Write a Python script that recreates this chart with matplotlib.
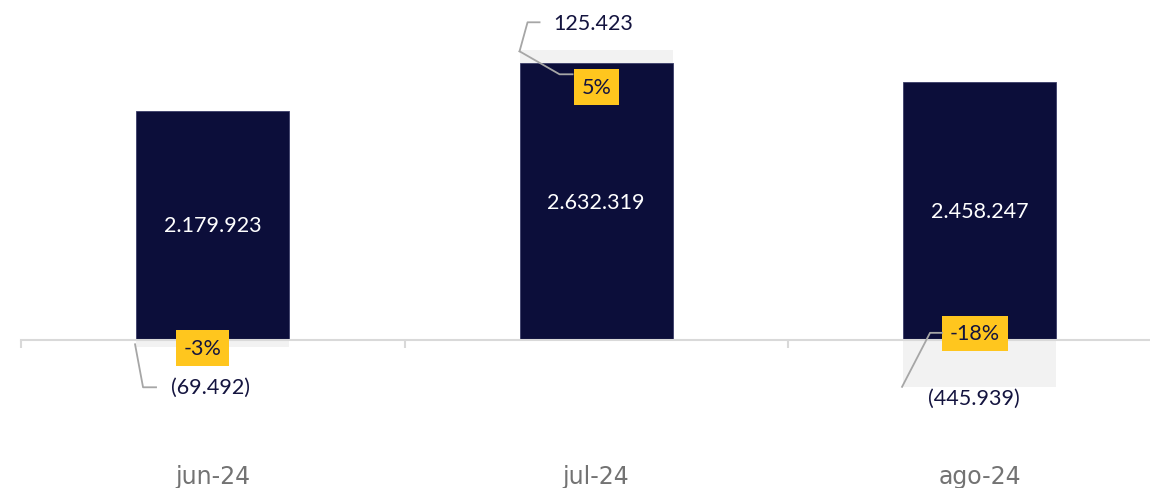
import matplotlib
matplotlib.use("Agg")
import matplotlib.pyplot as plt
from matplotlib.lines import Line2D

# ---- data ----
categories = ["jun-24", "jul-24", "ago-24"]
values = [2179923, 2632319, 2458247]
variation = [-69492, 125423, -445939]
variation_labels = ["(69.492)", "125.423", "(445.939)"]
value_labels = ["2.179.923", "2.632.319", "2.458.247"]
pct_labels = ["-3%", "5%", "-18%"]

# ---- styles / layout ----
NAVY = "#0C0E3A"
GREY_BAR = "#F2F2F2"
AXIS = "#D9D9D9"
LEADER = "#A6A6A6"
YELLOW = "#FFC61E"
TXT = "#14143F"
W = 0.4
FONT = "Lato"
FS = 15.5

# label offsets in pixels (screen y up), relative to anchors
var_lbl_off = [(74, -40), (74, 27), (71, -11)]
var_leader = [[(-1, 3), (7, -40), (20, -40)],
              [(20, 28), (8, 28), (0, -1)],
              [(-1, 0), (27, 54), (39, 54)]]
pct_off = [(-10, -8), (0, -23.5), (-5, 6.5)]
pct_leader = [None, [(0, -1), (40, -24), (53, -24)], None]

fig = plt.figure(figsize=(11.5, 4.89), dpi=100)
ax = fig.add_axes([21 / 1150, 0, 1150.5 / 1150, 1])
ax.set_xlim(-0.5, 2.5)
ax.set_ylim(-1.409e6, 3.246e6)

x = list(range(len(categories)))
ax.bar(x, values, width=W, color=NAVY, edgecolor="#3A3C68", linewidth=0.6, zorder=2)
bottoms = [v if d > 0 else 0 for v, d in zip(values, variation)]
ax.bar(x, variation, width=W, bottom=bottoms, color=GREY_BAR, edgecolor="none", zorder=1)

for s in ["top", "right", "left"]:
    ax.spines[s].set_visible(False)
ax.spines["bottom"].set_position(("data", 0))
ax.spines["bottom"].set_color(AXIS)
ax.spines["bottom"].set_linewidth(1.5)
ax.set_yticks([])
ax.set_xticks(x)
ax.set_xticklabels(categories, fontsize=17, color="#737373", family="DejaVu Sans")
ax.tick_params(axis="x", which="major", length=0, pad=89)
ax.set_xticks([-0.5, 0.5, 1.5, 2.5], minor=True)
ax.tick_params(axis="x", which="minor", length=6, width=1.5, color=AXIS, direction="out")

fig.canvas.draw()
tr = ax.transData

def disp(xd, yd, dx, dy):
    px, py = tr.transform((xd, yd))
    return px + dx, py + dy

for i in x:
    ax.text(i, values[i] / 2, value_labels[i], ha="center", va="center",
            color="white", fontsize=FS, family=FONT, zorder=5)
    d = variation[i]
    end = values[i] + d if d > 0 else d
    left = i - W / 2
    ax.annotate(variation_labels[i], xy=(left, end), xycoords="data",
                xytext=var_lbl_off[i], textcoords="offset pixels",
                ha="center", va="center", color=TXT, fontsize=FS, family=FONT, zorder=5)
    pts = [disp(left, end, dx, dy) for dx, dy in var_leader[i]]
    fig.add_artist(Line2D([p[0] for p in pts], [p[1] for p in pts], transform=None,
                          color=LEADER, lw=1.3, zorder=4))
    base = values[i] if d > 0 else 0
    ax.annotate(pct_labels[i], xy=(i, base), xycoords="data",
                xytext=pct_off[i], textcoords="offset pixels",
                ha="center", va="center", color=TXT, fontsize=FS, family=FONT, zorder=6,
                bbox=dict(boxstyle="square,pad=0.36", fc=YELLOW, ec="none"))
    if pct_leader[i] is not None:
        pts = [disp(left, end, dx, dy) for dx, dy in pct_leader[i]]
        fig.add_artist(Line2D([p[0] for p in pts], [p[1] for p in pts], transform=None,
                              color=LEADER, lw=1.3, zorder=4))

fig.savefig("out.png", dpi=100)
